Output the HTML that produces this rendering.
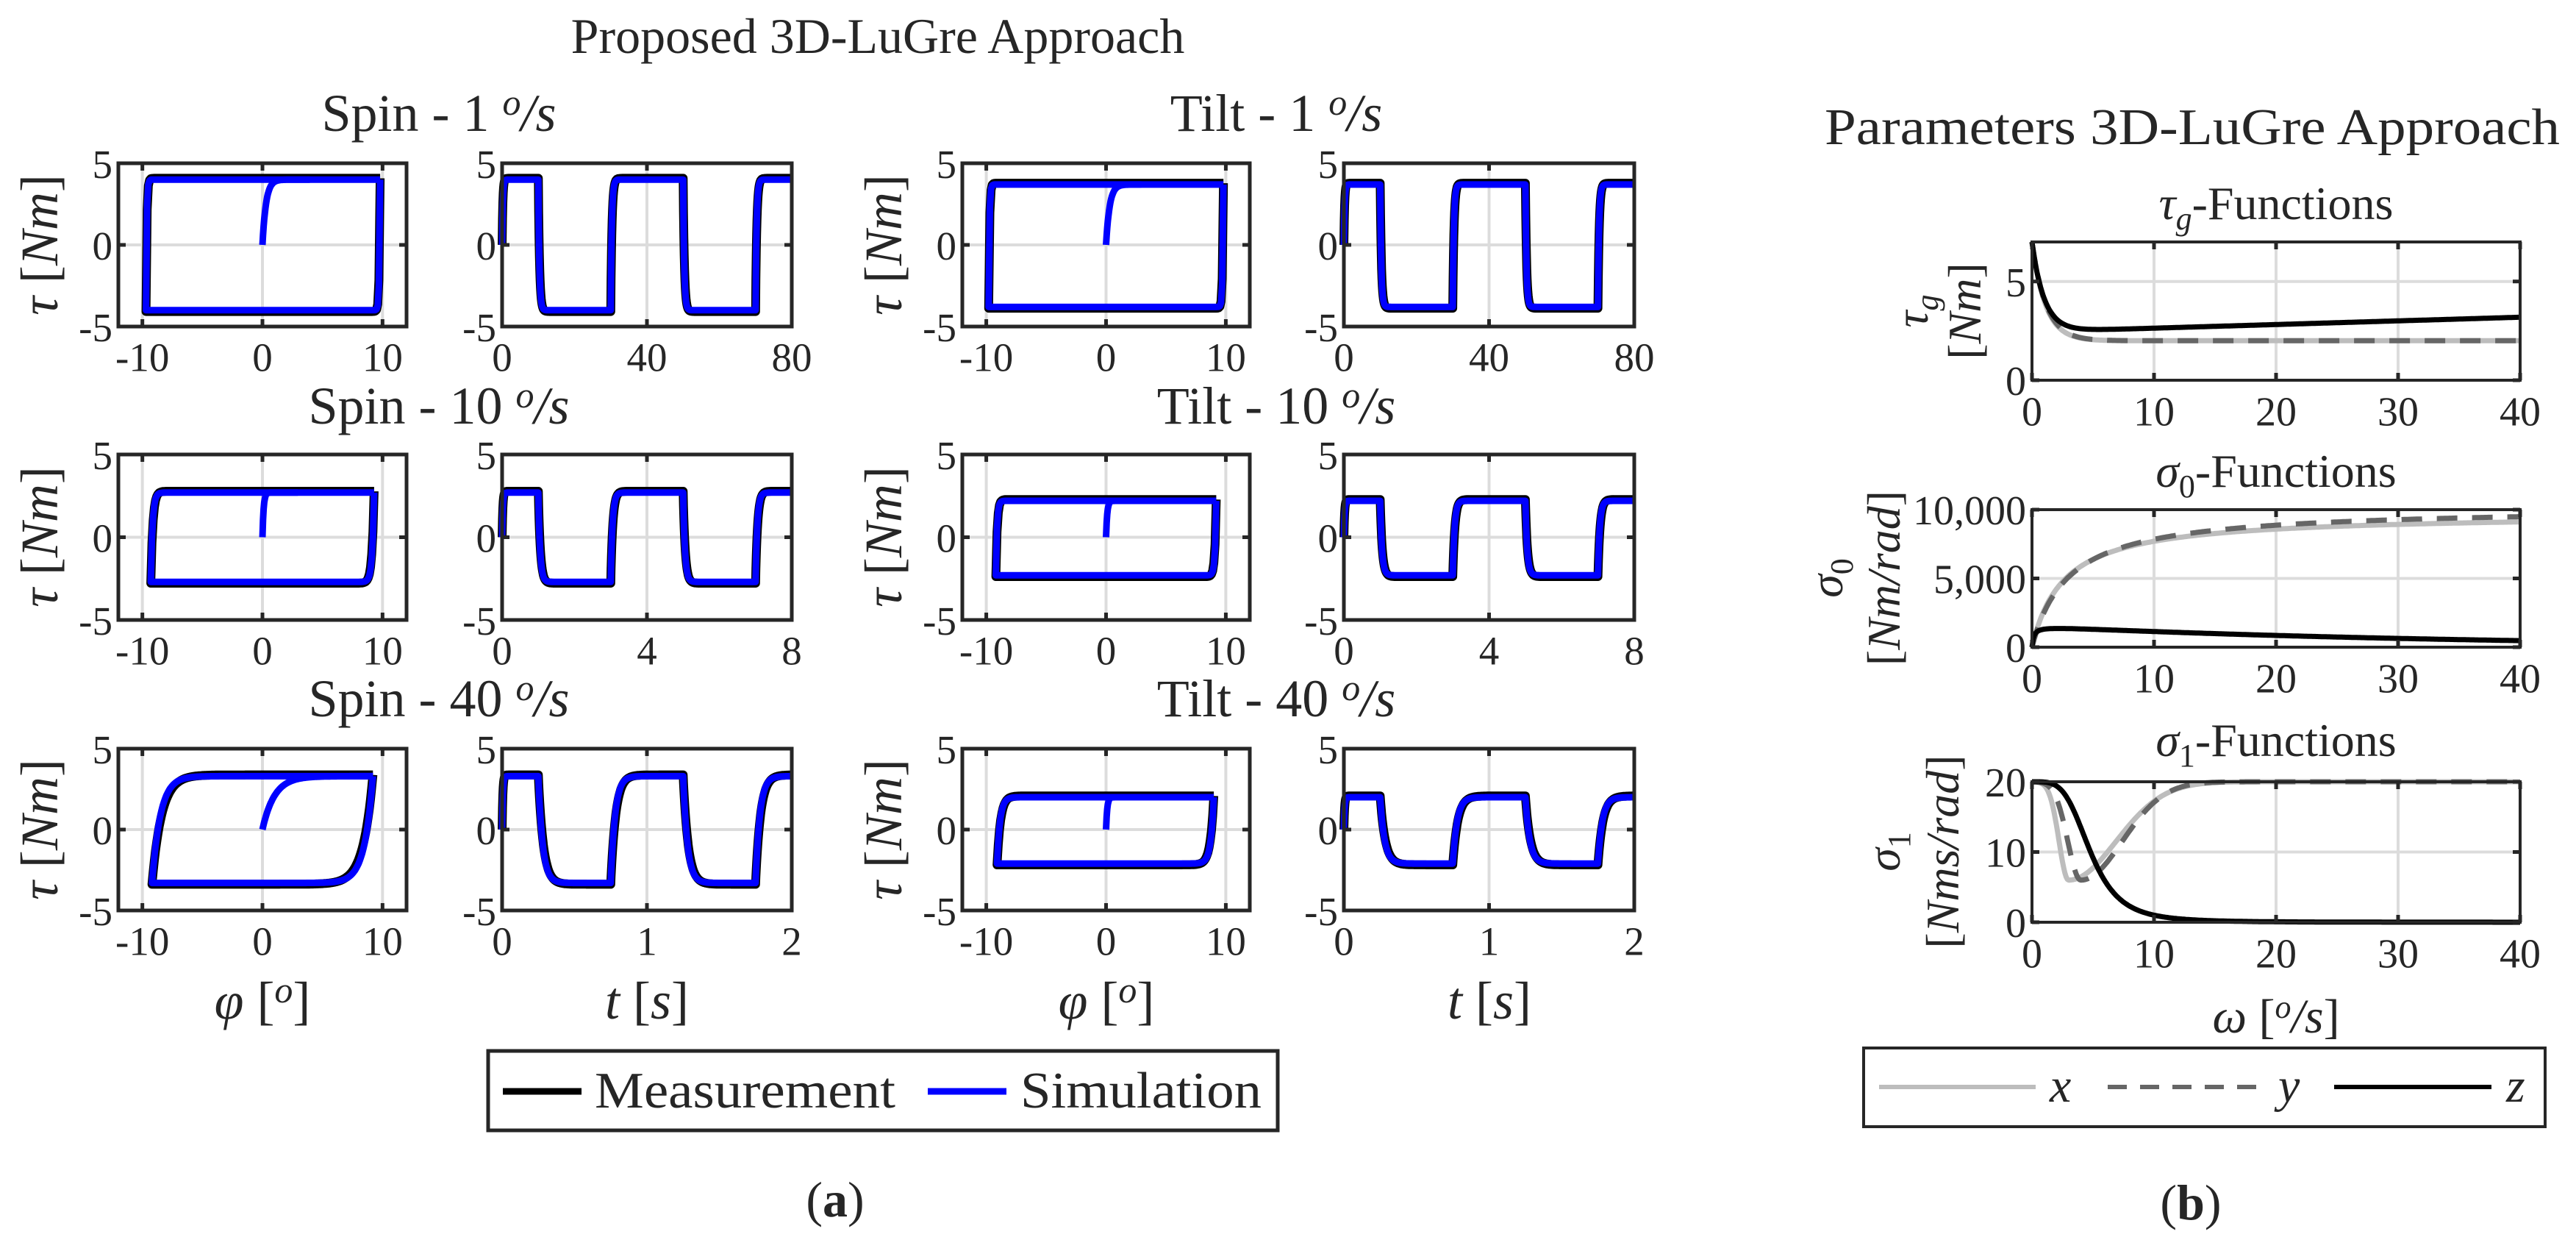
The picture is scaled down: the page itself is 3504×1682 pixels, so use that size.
<!DOCTYPE html>
<html><head><meta charset="utf-8">
<style>
html,body{margin:0;padding:0;background:#fff;}
svg{display:block;}
text{font-family:"Liberation Serif",serif;fill:#262626;}
.it{font-style:italic;}
</style></head>
<body>
<svg id="s" xmlns="http://www.w3.org/2000/svg" width="3504" height="1682" viewBox="0 0 3504 1682">
<rect width="3504" height="1682" fill="#fff"/>
<g id="grid"></g>
<g id="curves"></g>
<g id="axes"></g>
<g id="labels">
<text x="1194" y="72" font-size="68" text-anchor="middle" fill="#000">Proposed 3D-LuGre Approach</text>
<text x="597" y="178" font-size="72" text-anchor="middle">Spin - 1 <tspan class="it" font-size="50" dy="-22">o</tspan><tspan class="it" dy="22">/s</tspan></text>
<text x="597" y="576" font-size="72" text-anchor="middle">Spin - 10 <tspan class="it" font-size="50" dy="-22">o</tspan><tspan class="it" dy="22">/s</tspan></text>
<text x="597" y="974" font-size="72" text-anchor="middle">Spin - 40 <tspan class="it" font-size="50" dy="-22">o</tspan><tspan class="it" dy="22">/s</tspan></text>
<text x="1736" y="178" font-size="72" text-anchor="middle">Tilt - 1 <tspan class="it" font-size="50" dy="-22">o</tspan><tspan class="it" dy="22">/s</tspan></text>
<text x="1736" y="576" font-size="72" text-anchor="middle">Tilt - 10 <tspan class="it" font-size="50" dy="-22">o</tspan><tspan class="it" dy="22">/s</tspan></text>
<text x="1736" y="974" font-size="72" text-anchor="middle">Tilt - 40 <tspan class="it" font-size="50" dy="-22">o</tspan><tspan class="it" dy="22">/s</tspan></text>

<text transform="translate(78,333) rotate(-90)" font-size="72" text-anchor="middle"><tspan class="it">τ</tspan> [<tspan class="it">Nm</tspan>]</text>
<text transform="translate(78,730) rotate(-90)" font-size="72" text-anchor="middle"><tspan class="it">τ</tspan> [<tspan class="it">Nm</tspan>]</text>
<text transform="translate(78,1128) rotate(-90)" font-size="72" text-anchor="middle"><tspan class="it">τ</tspan> [<tspan class="it">Nm</tspan>]</text>
<text transform="translate(1226,333) rotate(-90)" font-size="72" text-anchor="middle"><tspan class="it">τ</tspan> [<tspan class="it">Nm</tspan>]</text>
<text transform="translate(1226,730) rotate(-90)" font-size="72" text-anchor="middle"><tspan class="it">τ</tspan> [<tspan class="it">Nm</tspan>]</text>
<text transform="translate(1226,1128) rotate(-90)" font-size="72" text-anchor="middle"><tspan class="it">τ</tspan> [<tspan class="it">Nm</tspan>]</text>

<text x="357" y="1385" font-size="72" text-anchor="middle"><tspan class="it">φ</tspan> [<tspan class="it" font-size="50" dy="-22">o</tspan><tspan dy="22">]</tspan></text>
<text x="1505" y="1385" font-size="72" text-anchor="middle"><tspan class="it">φ</tspan> [<tspan class="it" font-size="50" dy="-22">o</tspan><tspan dy="22">]</tspan></text>
<text x="880" y="1385" font-size="72" text-anchor="middle"><tspan class="it">t</tspan> [<tspan class="it">s</tspan>]</text>
<text x="2026" y="1385" font-size="72" text-anchor="middle"><tspan class="it">t</tspan> [<tspan class="it">s</tspan>]</text>

<rect x="664" y="1429" width="1074" height="108" fill="#fff" stroke="#262626" stroke-width="5"/>
<line x1="684" y1="1484" x2="791" y2="1484" stroke="#000" stroke-width="9"/>
<text x="809" y="1506" font-size="70" fill="#000" textLength="409" lengthAdjust="spacingAndGlyphs">Measurement</text>
<line x1="1262" y1="1484" x2="1369" y2="1484" stroke="#0000ff" stroke-width="9"/>
<text x="1388" y="1506" font-size="70" fill="#000" textLength="328" lengthAdjust="spacingAndGlyphs">Simulation</text>
<text x="1136" y="1654" font-size="68" text-anchor="middle" fill="#000">(<tspan font-weight="bold">a</tspan>)</text>

<text x="2982" y="196" font-size="70" text-anchor="middle" fill="#000" textLength="1000" lengthAdjust="spacingAndGlyphs">Parameters 3D-LuGre Approach</text>
<text x="3096" y="298" font-size="64" text-anchor="middle"><tspan class="it">τ</tspan><tspan class="it" font-size="44" dy="14">g</tspan><tspan dy="-14">-Functions</tspan></text>
<text x="3096" y="662" font-size="64" text-anchor="middle"><tspan class="it">σ</tspan><tspan font-size="44" dy="14">0</tspan><tspan dy="-14">-Functions</tspan></text>
<text x="3096" y="1028" font-size="64" text-anchor="middle"><tspan class="it">σ</tspan><tspan font-size="44" dy="14">1</tspan><tspan dy="-14">-Functions</tspan></text>

<text transform="translate(2622,423) rotate(-90)" font-size="64" text-anchor="middle"><tspan class="it">τ</tspan><tspan class="it" font-size="44" dy="14">g</tspan></text>
<text transform="translate(2694,423) rotate(-90)" font-size="64" text-anchor="middle">[<tspan class="it">Nm</tspan>]</text>
<text transform="translate(2506,786) rotate(-90)" font-size="64" text-anchor="middle"><tspan class="it">σ</tspan><tspan font-size="44" dy="14">0</tspan></text>
<text transform="translate(2584,786) rotate(-90)" font-size="64" text-anchor="middle">[<tspan class="it">Nm/rad</tspan>]</text>
<text transform="translate(2584,1158) rotate(-90)" font-size="64" text-anchor="middle"><tspan class="it">σ</tspan><tspan font-size="44" dy="14">1</tspan></text>
<text transform="translate(2664,1158) rotate(-90)" font-size="64" text-anchor="middle">[<tspan class="it">Nms/rad</tspan>]</text>
<text x="3096" y="1404" font-size="66" text-anchor="middle"><tspan class="it">ω</tspan> [<tspan class="it" font-size="44" dy="-20">o</tspan><tspan class="it" dy="20">/s</tspan>]</text>

<rect x="2535" y="1425" width="927" height="107" fill="#fff" stroke="#262626" stroke-width="4"/>
<line x1="2556" y1="1478" x2="2769" y2="1478" stroke="#bdbdbd" stroke-width="6"/>
<text x="2788" y="1498" font-size="66" class="it" fill="#000">x</text>
<line x1="2867" y1="1478" x2="3079" y2="1478" stroke="#666" stroke-width="6" stroke-dasharray="26,18"/>
<text x="3099" y="1498" font-size="66" class="it" fill="#000">y</text>
<line x1="3175" y1="1478" x2="3389" y2="1478" stroke="#000" stroke-width="6"/>
<text x="3409" y="1498" font-size="66" class="it" fill="#000">z</text>
<text x="2980" y="1658" font-size="68" text-anchor="middle" fill="#000">(<tspan font-weight="bold">b</tspan>)</text>
</g>
<g id="ticks"></g>
</svg>
<script>
var NS="http://www.w3.org/2000/svg";
function el(p,t,a,txt){var e=document.createElementNS(NS,t);for(var k in a)e.setAttribute(k,a[k]);if(txt!==undefined)e.textContent=txt;document.getElementById(p).appendChild(e);return e;}
function axes(x0,y0,x1,y1,xr,yr,xt,yt,xtl,ytl,fs,sw){
  var X=function(v){return x0+(v-xr[0])/(xr[1]-xr[0])*(x1-x0);};
  var Y=function(v){return y1-(v-yr[0])/(yr[1]-yr[0])*(y1-y0);};
  xt.forEach(function(v,i){var x=X(v);el("grid","line",{x1:x,y1:y0,x2:x,y2:y1,stroke:"#dcdcdc","stroke-width":4});
    el("axes","line",{x1:x,y1:y1,x2:x,y2:y1-10,stroke:"#262626","stroke-width":5});
    el("axes","line",{x1:x,y1:y0,x2:x,y2:y0+10,stroke:"#262626","stroke-width":5});
    el("ticks","text",{x:x,y:y1+fs*1.1,"font-size":fs,"text-anchor":"middle"},xtl[i]);});
  yt.forEach(function(v,i){var y=Y(v);el("grid","line",{x1:x0,y1:y,x2:x1,y2:y,stroke:"#dcdcdc","stroke-width":4});
    el("axes","line",{x1:x0,y1:y,x2:x0+10,y2:y,stroke:"#262626","stroke-width":5});
    el("axes","line",{x1:x1,y1:y,x2:x1-10,y2:y,stroke:"#262626","stroke-width":5});
    el("ticks","text",{x:x0-8,y:y+fs*0.36,"font-size":fs,"text-anchor":"end"},ytl[i]);});
  el("axes","rect",{x:x0,y:y0,width:x1-x0,height:y1-y0,fill:"none",stroke:"#262626","stroke-width":sw});
  return {X:X,Y:Y};
}
function path(pts,A,attrs){var d="";pts.forEach(function(p,i){d+=(i?"L":"M")+A.X(p[0]).toFixed(1)+","+A.Y(p[1]).toFixed(1);});attrs.d=d;attrs.fill="none";attrs["stroke-linejoin"]="round";el("curves","path",attrs);}
function hyst(x0,y0,x1,y1,P){
  var A=axes(x0,y0,x1,y1,[-12,12],[-5,5],[-10,0,10],[-5,0,5],["-10","0","10"],["-5","0","5"],55,5);
  function branch(top,bot,xl,xr,k){var pts=[];
    for(var f=xr;f>=xl;f-=0.1){pts.push([f,top-(top-bot)*Math.exp(-(f-xl)/k)]);}
    for(var f=xl;f<=xr;f+=0.1){pts.push([f,bot+(top-bot)*Math.exp((f-xr)/k)]);}
    pts.push(pts[0]);return pts;}
  path(branch(P.t+0.08,P.b-0.08,P.xl,P.xr,P.k*1.15),A,{stroke:"#000","stroke-width":12});
  path(branch(P.t,P.b,P.xl,P.xr,P.k),A,{stroke:"#0000ff","stroke-width":9});
  var s=[];for(var f=0;f<=P.xr;f+=0.05){s.push([f,P.t-P.t*Math.exp(-f/P.ks)]);}
  path(s.slice(0,P.sl),A,{stroke:"#0000ff","stroke-width":9});
}
function sq(x0,y0,x1,y1,xr,xt,xtl,P){
  var A=axes(x0,y0,x1,y1,xr,[-5,5],xt,[-5,0,5],xtl,["-5","0","5"],55,5);
  var L=xr[1];function mk(t,b,k){var pts=[];
    for(var i=0;i<=800;i++){var u=i/800*8;var v;
      var tr=[1,3,5,7];
      var sgn=(u<1||(u>=3&&u<5)||u>=7)?1:-1;
      var last=0;tr.forEach(function(c){if(u>=c)last=c;});
      var dt=u-last;var prev=-sgn;
      if(last>0){var e=Math.exp(-dt/k);v=(sgn>0?t:b)-((sgn>0?t:b)-(prev>0?t:b))*e;}else{v=t-(t)*Math.exp(-u/0.02);}
      pts.push([u/8*L,v]);}
    return pts;}
  path(mk(P.t+0.08,P.b-0.08,P.k*1.15),A,{stroke:"#000","stroke-width":12});
  path(mk(P.t,P.b,P.k),A,{stroke:"#0000ff","stroke-width":9});
}
var rows=[[222,444],[618,843],[1018,1238]];
var spin=[{t:4,b:-4,xl:-9.7,xr:9.8,k:0.06,ks:0.3,sl:80},{t:2.7,b:-2.7,xl:-9.3,xr:9.3,k:0.15,ks:0.1,sl:60},{t:3.3,b:-3.3,xl:-9.2,xr:9.2,k:0.7,ks:1.0,sl:200}];
var tilt=[{t:3.7,b:-3.8,xl:-9.8,xr:9.8,k:0.06,ks:0.3,sl:60},{t:2.2,b:-2.3,xl:-9.2,xr:9.2,k:0.1,ks:0.1,sl:40},{t:2.0,b:-2.1,xl:-9.1,xr:9.0,k:0.25,ks:0.1,sl:30}];
var sqk=[0.03,0.05,0.12];
var tr=[[[0,80],[0,40,80],["0","40","80"]],[[0,8],[0,4,8],["0","4","8"]],[[0,2],[0,1,2],["0","1","2"]]];
for(var r=0;r<3;r++){
  hyst(161,rows[r][0],553,rows[r][1],spin[r]);
  sq(683,rows[r][0],1077,rows[r][1],tr[r][0],tr[r][1],tr[r][2],{t:spin[r].t,b:spin[r].b,k:sqk[r]});
  hyst(1309,rows[r][0],1700,rows[r][1],tilt[r]);
  sq(1828,rows[r][0],2223,rows[r][1],tr[r][0],tr[r][1],tr[r][2],{t:tilt[r].t,b:tilt[r].b,k:sqk[r]});
}
var xt=[0,10,20,30,40],xtl=["0","10","20","30","40"];
function fn(A,f,att){var p=[];for(var w=0;w<=40.001;w+=0.1)p.push([w,f(w)]);path(p,A,att);}
var gx={stroke:"#bdbdbd","stroke-width":7},gy={stroke:"#666","stroke-width":7,"stroke-dasharray":"28,20"},gz={stroke:"#000","stroke-width":7};
var A1=axes(2764,329,3428,517,[0,40],[0,7],xt,[0,5],xtl,["0","5"],56,4);
fn(A1,function(w){return 2+5*Math.exp(-w/1.1);},gx);
fn(A1,function(w){return 2+5*Math.exp(-w/1.15);},gy);
fn(A1,function(w){return 2.45+4.55*Math.exp(-w/1.0)+0.0185*w;},gz);
var A2=axes(2764,693,3428,880,[0,40],[0,10000],xt,[0,5000,10000],xtl,["0","5,000","10,000"],56,4);
fn(A2,function(w){return 9700*w/(w+2.6);},gx);
fn(A2,function(w){return 10200*w/(w+3.0);},gy);
fn(A2,function(w){return 1550*w/(w+0.15)*Math.exp(-w/34);},gz);
var A3=axes(2764,1063,3428,1254,[0,40],[0,20],xt,[0,10,20],xtl,["0","10","20"],56,4);
fn(A3,function(w){var c=3;return 20-14*(w<c?Math.exp(-Math.pow((w-c)/1.1,2)):Math.exp(-Math.pow((w-c)/5.5,2)));},gx);
fn(A3,function(w){var c=4;return 20-14*(w<c?Math.exp(-Math.pow((w-c)/1.5,2)):Math.exp(-Math.pow((w-c)/4.8,2)));},gy);
fn(A3,function(w){return 20/(1+Math.pow(w/4.8,4));},gz);
</script>
</body></html>
